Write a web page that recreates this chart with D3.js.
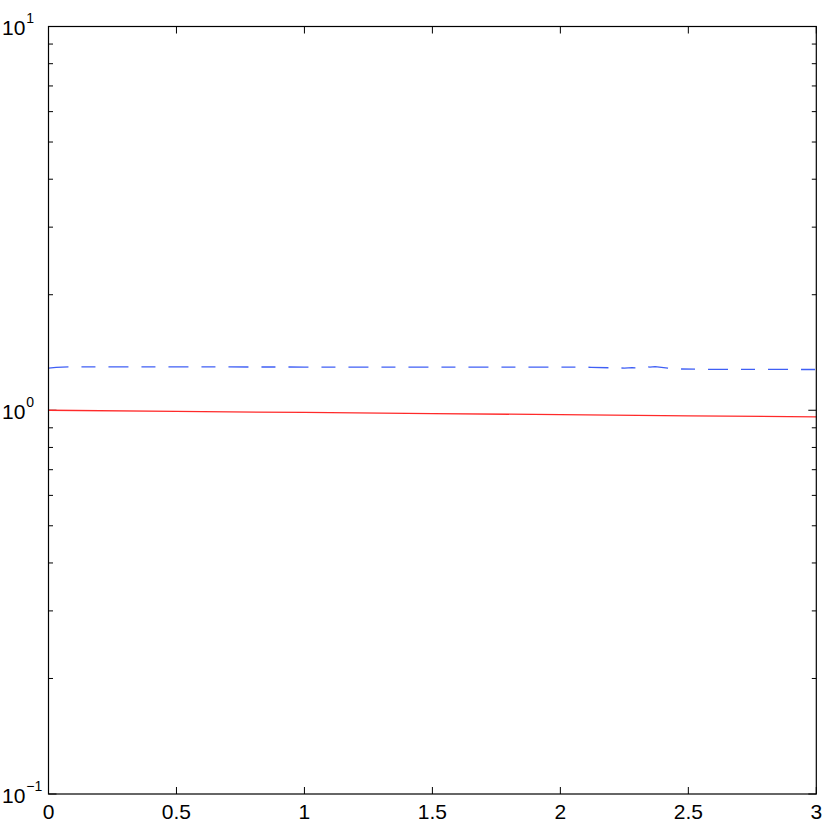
<!DOCTYPE html>
<html>
<head>
<meta charset="utf-8">
<script src="https://cdn.jsdelivr.net/npm/d3@7"></script>
<style>
  body { margin: 0; background: #fff; }
  text { font-family: "Liberation Sans", Arial, Helvetica, sans-serif; fill: #000; }
</style>
</head>
<body>
<svg id="foo" width="830" height="822"></svg>
<script>
// red solid line
var redX = [0, 0.5, 1, 1.5, 2, 2.5, 3];
var redY = [1.000, 0.993, 0.987, 0.980, 0.974, 0.967, 0.961];

// blue dashed line
var blueX = [0, 0.03, 0.08, 0.5, 1.0, 1.5, 2.0, 2.12, 2.2, 2.25, 2.28, 2.31, 2.33, 2.35, 2.37, 2.42, 2.47, 2.6, 3];
var blueY = [1.287, 1.293, 1.297, 1.297, 1.296, 1.296, 1.296, 1.294, 1.290, 1.288, 1.291, 1.289, 1.301, 1.296, 1.299, 1.288, 1.281, 1.278, 1.277];

var xTicks = [0, 0.5, 1, 1.5, 2, 2.5, 3];
var xTickLabels = ['0', '0.5', '1', '1.5', '2', '2.5', '3'];
var yDecades = [0.1, 1, 10];
var yExponents = ['\u22121', '0', '1'];

var pLeft = 48.5, pRight = 816.3, pTop = 26.5, pBottom = 794;

var x = d3.scaleLinear().domain([0, 3]).range([pLeft, pRight]);
var y = d3.scaleLog().domain([0.1, 10]).range([pBottom, pTop]);

var svg = d3.select('#foo');

// minor log ticks
var minor = [];
[0.1, 1].forEach(function (d) {
  for (var k = 2; k <= 9; k++) minor.push(d * k);
});

var ticks = svg.append('g')
  .attr('stroke', '#000')
  .attr('stroke-width', 1);

ticks.selectAll('.yminL').data(minor).enter().append('line')
  .attr('x1', pLeft).attr('x2', pLeft + 4.5)
  .attr('y1', function (d) { return y(d); })
  .attr('y2', function (d) { return y(d); });

ticks.selectAll('.yminR').data(minor).enter().append('line')
  .attr('x1', pRight).attr('x2', pRight - 4.5)
  .attr('y1', function (d) { return y(d); })
  .attr('y2', function (d) { return y(d); });

ticks.selectAll('.ymajL').data(yDecades).enter().append('line')
  .attr('x1', pLeft).attr('x2', pLeft + 8)
  .attr('y1', function (d) { return y(d); })
  .attr('y2', function (d) { return y(d); });

ticks.selectAll('.ymajR').data(yDecades).enter().append('line')
  .attr('x1', pRight).attr('x2', pRight - 8)
  .attr('y1', function (d) { return y(d); })
  .attr('y2', function (d) { return y(d); });

ticks.selectAll('.xb').data(xTicks).enter().append('line')
  .attr('x1', function (d) { return x(d); })
  .attr('x2', function (d) { return x(d); })
  .attr('y1', pBottom).attr('y2', pBottom - 7);

ticks.selectAll('.xt').data(xTicks).enter().append('line')
  .attr('x1', function (d) { return x(d); })
  .attr('x2', function (d) { return x(d); })
  .attr('y1', pTop).attr('y2', pTop + 7);

// data lines
var line = d3.line()
  .x(function (d) { return x(d[0]); })
  .y(function (d) { return y(d[1]); });

svg.append('path')
  .datum(d3.zip(redX, redY))
  .attr('d', line)
  .attr('fill', 'none')
  .attr('stroke', '#ff2a2a')
  .attr('stroke-width', 1.3);

svg.append('path')
  .datum(d3.zip(blueX, blueY))
  .attr('d', line)
  .attr('fill', 'none')
  .attr('stroke', '#3f5ff5')
  .attr('stroke-width', 1.3)
  .attr('stroke-dasharray', '20,13,14,13');

// frame
svg.append('rect')
  .attr('x', pLeft).attr('y', pTop)
  .attr('width', pRight - pLeft).attr('height', pBottom - pTop)
  .attr('fill', 'none')
  .attr('stroke', '#000')
  .attr('stroke-width', 1.2);

// x tick labels
svg.selectAll('.xl').data(xTicks).enter().append('text')
  .attr('x', function (d) { return x(d); })
  .attr('y', 818.5)
  .attr('text-anchor', 'middle')
  .style('font-size', '21px')
  .text(function (d, i) { return xTickLabels[i]; });

// y tick labels 10^n
var yl = svg.selectAll('.yl').data(yDecades).enter().append('text')
  .attr('x', 2)
  .attr('y', function (d) { return y(d) + 8.7; })
  .style('font-size', '21px');
yl.append('tspan').text('10');
yl.append('tspan')
  .attr('dy', -12)
  .attr('dx', 1)
  .style('font-size', '14px')
  .text(function (d, i) { return yExponents[i]; });
</script>
</body>
</html>
